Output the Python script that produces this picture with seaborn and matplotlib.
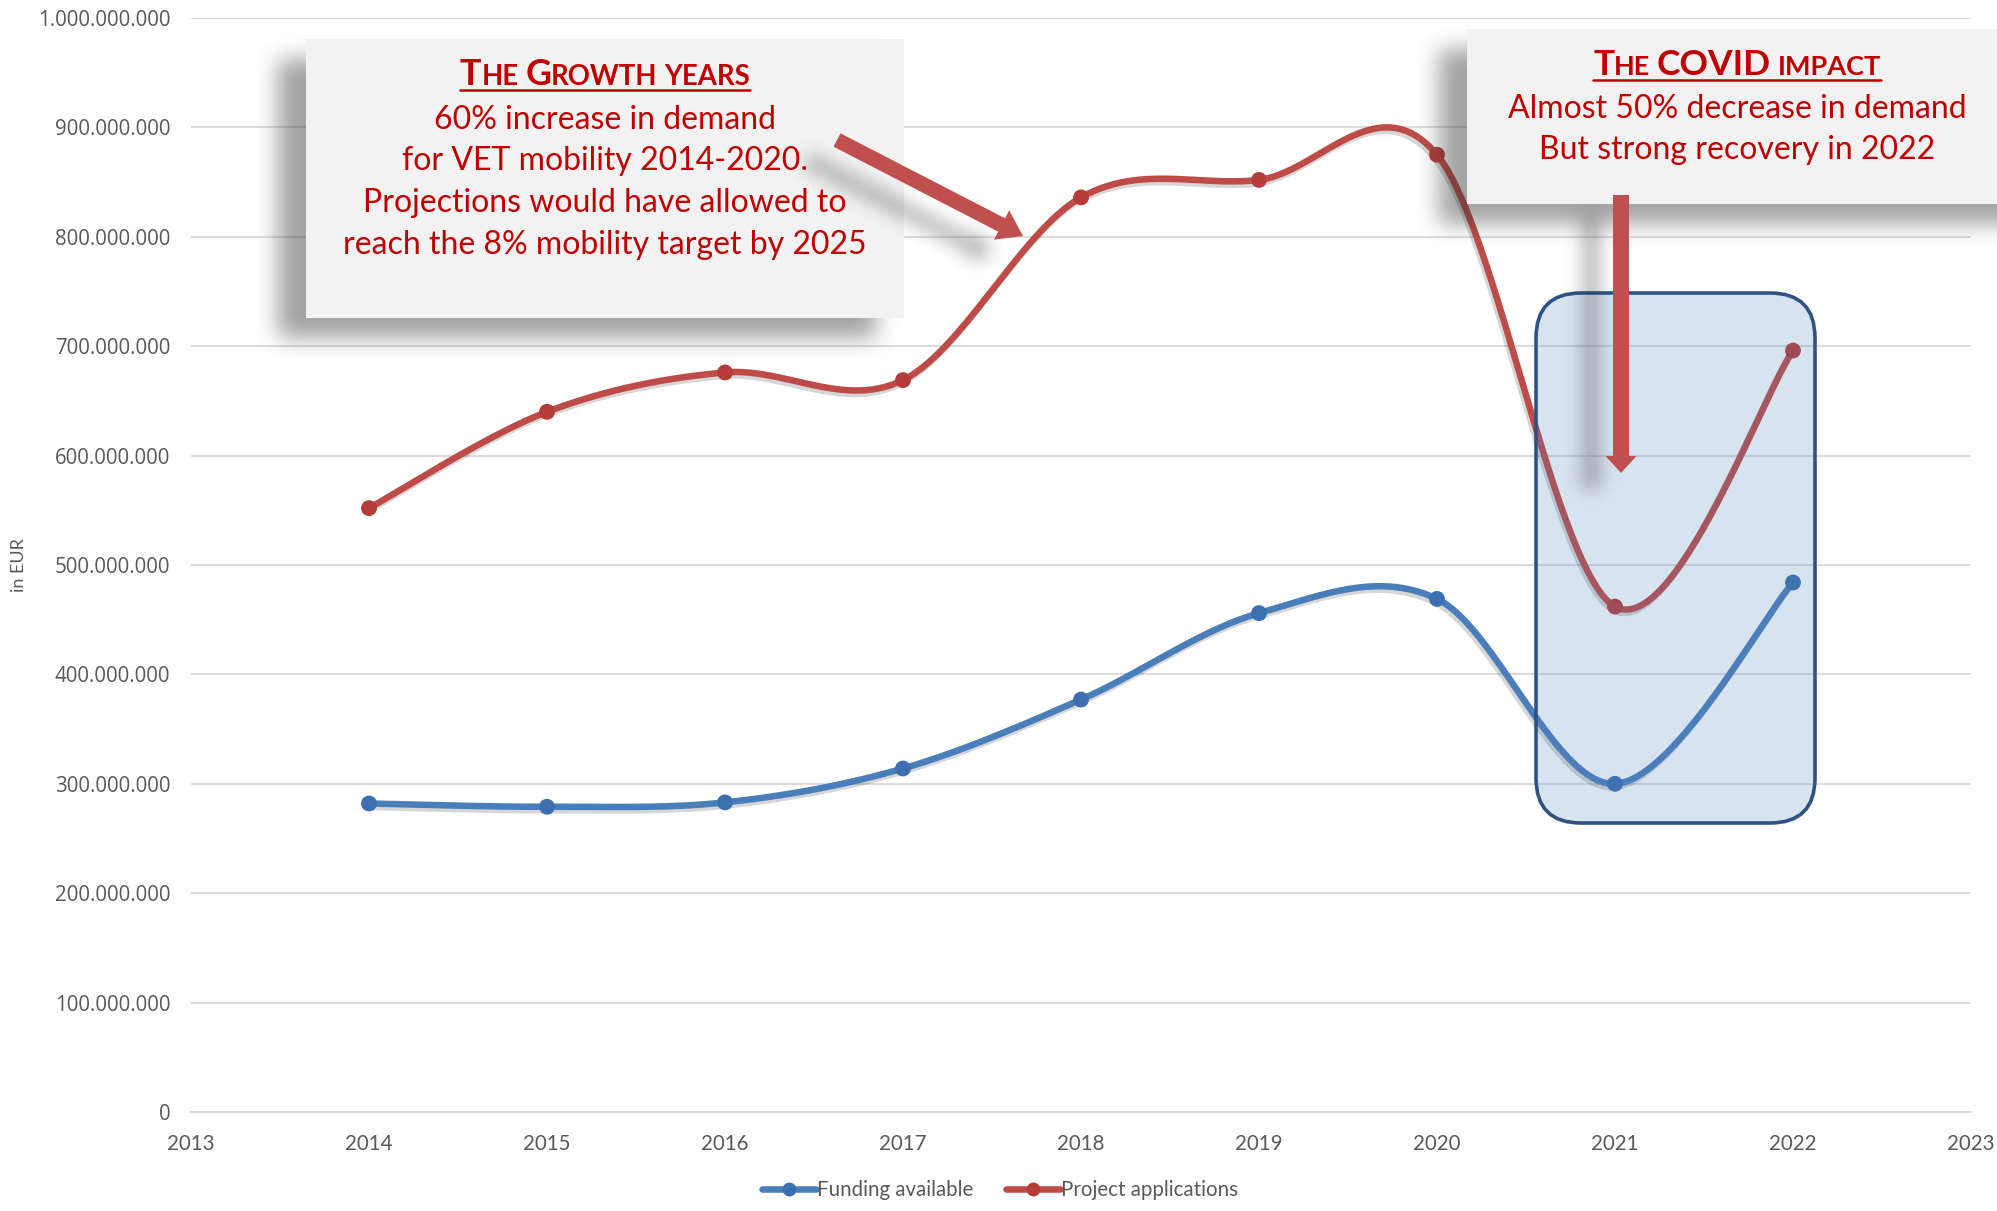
import numpy as np
import pandas as pd
import matplotlib
matplotlib.use("Agg")
import matplotlib.pyplot as plt
import seaborn as sns
from matplotlib.patches import Rectangle, FancyBboxPatch, Polygon
from matplotlib.lines import Line2D
from matplotlib.path import Path
from matplotlib.transforms import Affine2D
from matplotlib.ticker import FuncFormatter, FixedLocator
import matplotlib.patheffects as pe

# ---------------- data ----------------
years = [2014, 2015, 2016, 2017, 2018, 2019, 2020, 2021, 2022]
funding_available = [282e6, 279e6, 283e6, 314e6, 377e6, 456e6, 469e6, 300e6, 484e6]
project_applications = [552e6, 640e6, 676e6, 669e6, 836e6, 852e6, 875e6, 462e6, 696e6]
series_names = ["Funding available", "Project applications"]
x_ticks = list(range(2013, 2024))
y_ticks = list(range(0, 1_000_000_001, 100_000_000))
y_label = "in EUR"

growth_title = "The Growth years"
growth_lines = ["60% increase in demand",
                "for VET mobility 2014-2020.",
                "Projections would have allowed to",
                "reach the 8% mobility target by 2025"]
covid_title = "The COVID impact"
covid_lines = ["Almost 50% decrease in demand",
               "But strong recovery in 2022"]

# ---------------- style ----------------
BLUE = "#4a7ebb"
RED = "#be4b48"
BLUE_M = "#3c6fb0"
RED_M = "#b53c3a"
TXT_RED = "#c00000"
GRAY = "#595959"
FONT = "Lato"

sns.set_style("white")
plt.rcParams["font.family"] = [FONT, "DejaVu Sans"]

W, H = 1997, 1211
DPI = 100
fig = plt.figure(figsize=(W / DPI, H / DPI), dpi=DPI)
fig.patch.set_facecolor("white")
px = Affine2D().scale(1 / DPI, -1 / DPI).translate(0, H / DPI) + fig.dpi_scale_trans

ax = fig.add_axes([191 / W, 1 - 1112 / H, (1971 - 191) / W, (1112 - 18) / H])


def excel_smooth(x, y, n=60):
    x = np.asarray(x, float)
    y = np.asarray(y, float)
    P = np.column_stack([x, y])
    P = np.vstack([P[:1], P, P[-1:]])
    t = np.linspace(0, 1, n)[:, None]
    segs = []
    for i in range(len(x) - 1):
        p0, p1, p2, p3 = P[i], P[i + 1], P[i + 2], P[i + 3]
        c1 = p1 + (p2 - p0) / 6
        c2 = p2 - (p3 - p1) / 6
        B = ((1 - t) ** 3) * p1 + 3 * ((1 - t) ** 2) * t * c1 + 3 * (1 - t) * t ** 2 * c2 + t ** 3 * p2
        segs.append(B if i == 0 else B[1:])
    B = np.vstack(segs)
    return B[:, 0], B[:, 1]


raw = pd.DataFrame({
    "year": years * 2,
    "value": funding_available + project_applications,
    "series": [series_names[0]] * len(years) + [series_names[1]] * len(years),
})
smooth_parts = []
for name, vals in zip(series_names, [funding_available, project_applications]):
    sx, sy = excel_smooth(years, vals)
    smooth_parts.append(pd.DataFrame({"year": sx, "value": sy, "series": name}))
smooth = pd.concat(smooth_parts, ignore_index=True)

palette = {series_names[0]: BLUE, series_names[1]: RED}
mpalette = {series_names[0]: BLUE_M, series_names[1]: RED_M}

sns.lineplot(data=smooth, x="year", y="value", hue="series", palette=palette,
             sort=False, estimator=None, lw=4.7, legend=False, ax=ax,
             path_effects=[pe.SimpleLineShadow(offset=(-1.5, -2.5), alpha=0.16), pe.Normal()],
             zorder=3)
sns.scatterplot(data=raw, x="year", y="value", hue="series", palette=mpalette,
                s=130, linewidth=0.0, legend=False, ax=ax, zorder=4)

ax.set_xlim(2013, 2023)
ax.set_ylim(0, 1_000_000_000)
ax.xaxis.set_major_locator(FixedLocator(x_ticks))
ax.yaxis.set_major_locator(FixedLocator(y_ticks))
ax.xaxis.set_major_formatter(FuncFormatter(lambda v, p: f"{int(round(v))}"))
ax.yaxis.set_major_formatter(FuncFormatter(lambda v, p: f"{int(round(v)):,}".replace(",", ".")))
ax.yaxis.grid(True, color="#d9d9d9", lw=1.3)
ax.xaxis.grid(False)
for s in ["left", "top", "right"]:
    ax.spines[s].set_visible(False)
ax.spines["bottom"].set_color("#d9d9d9")
ax.spines["bottom"].set_linewidth(1.3)
ax.tick_params(axis="y", length=0, pad=15, labelsize=14.8, labelcolor=GRAY)
ax.tick_params(axis="x", length=0, pad=15.5, labelsize=14.8, labelcolor=GRAY)
for lbl in ax.get_yticklabels():
    lbl.set_family("Open Sans")
ax.set_xlabel("")
ax.set_ylabel(y_label, fontsize=13, color=GRAY)
ax.yaxis.set_label_coords((27 - 191) / (1971 - 191), 0.5)

# legend
handles = [Line2D([0], [0], color=palette[n], lw=4.7, marker="o", markersize=10,
                  markerfacecolor=mpalette[n], markeredgewidth=0) for n in series_names]
fig.legend(handles, series_names, loc="center", bbox_to_anchor=(1000 / W, 1 - 1190 / H),
           ncol=2, frameon=False, fontsize=14.8, handlelength=2.6, handletextpad=0.05,
           columnspacing=1.6, labelcolor=GRAY)

# ---------------- shadows ----------------
yy, xx = np.mgrid[0:H, 0:W]
xx = xx + 0.5
yy = yy + 0.5


def box_blur(a, r, axis):
    a = np.moveaxis(a, axis, -1)
    pad = np.pad(a, [(0, 0)] * (a.ndim - 1) + [(r + 1, r)], mode="edge")
    c = np.cumsum(pad, axis=-1)
    out = (c[..., 2 * r + 1:] - c[..., :-(2 * r + 1)]) / (2 * r + 1)
    return np.moveaxis(out, -1, axis)


def blur(a, r):
    for _ in range(3):
        a = box_blur(a, r, 0)
        a = box_blur(a, r, 1)
    return a


def poly_mask(pts):
    path = Path(pts)
    x0, y0 = np.floor(pts.min(0)).astype(int) - 1
    x1, y1 = np.ceil(pts.max(0)).astype(int) + 2
    x0, y0 = max(x0, 0), max(y0, 0)
    x1, y1 = min(x1, W), min(y1, H)
    m = np.zeros((H, W))
    sub = np.column_stack([xx[y0:y1, x0:x1].ravel(), yy[y0:y1, x0:x1].ravel()])
    m[y0:y1, x0:x1] = path.contains_points(sub).reshape(y1 - y0, x1 - x0)
    return m


def rect_pts(x0, y0, x1, y1):
    return np.array([[x0, y0], [x1, y0], [x1, y1], [x0, y1]], float)


def arrow_pts(tail, tip, shaft_w, head_w, head_l):
    tail = np.asarray(tail, float)
    tip = np.asarray(tip, float)
    d = tip - tail
    u = d / np.hypot(*d)
    n = np.array([-u[1], u[0]])
    base = tip - u * head_l
    return np.array([tail + n * shaft_w / 2, base + n * shaft_w / 2, base + n * head_w / 2, tip,
                     base - n * head_w / 2, base - n * shaft_w / 2, tail - n * shaft_w / 2])


def shadow_image(polys, offset, r, strength, zorder):
    m = np.zeros((H, W))
    for p in polys:
        m = np.maximum(m, poly_mask(p + np.asarray(offset, float)))
    m = blur(m, r)
    rgba = np.zeros((H, W, 4))
    rgba[..., :3] = 0.2
    rgba[..., 3] = np.clip(m * strength, 0, 1)
    fig.figimage(rgba, 0, 0, origin="upper", zorder=zorder)


box1 = rect_pts(306, 39, 904, 318)
box2 = rect_pts(1467, 29, 2030, 204)
arrow1 = arrow_pts((837, 140), (1023, 236), 15, 33, 24)
arrow2 = arrow_pts((1621, 195), (1621, 473), 16, 31, 17)

# covid highlight region
rr = FancyBboxPatch((1536, 293), 1815 - 1536, 823 - 293,
                    boxstyle="round,pad=0,rounding_size=45", transform=px,
                    facecolor=(0.31, 0.506, 0.741, 0.22), edgecolor="#2f5283", lw=2.6, zorder=1.5)
fig.add_artist(rr)

shadow_image([box1, box2], (-28, 20), 10, 0.45, 2)
for b in [box1, box2]:
    fig.add_artist(Polygon(b, closed=True, transform=px, facecolor="#f2f2f2", edgecolor="none", zorder=3))
shadow_image([arrow1, arrow2], (-30, 20), 8, 0.38, 3.5)
for a in [arrow1, arrow2]:
    fig.add_artist(Polygon(a, closed=True, transform=px, facecolor="#c0504d", edgecolor="none", zorder=4))

# ---------------- texts ----------------
renderer = fig.canvas.get_renderer()


def small_caps(text, xc, yb, big, small):
    runs = []
    for wi, word in enumerate(text.split(" ")):
        if wi:
            runs.append((" ", None))
        cur, cur_up = "", None
        for ch in word:
            up = ch.isupper() or not ch.isalpha()
            if cur and up != cur_up:
                runs.append((cur.upper(), big if cur_up else small))
                cur = ""
            cur += ch
            cur_up = up
        runs.append((cur.upper(), big if cur_up else small))
    probe1 = fig.text(0, 0, "H H", fontsize=small, fontweight="bold", transform=px)
    probe2 = fig.text(0, 0, "HH", fontsize=small, fontweight="bold", transform=px)
    gap = probe1.get_window_extent(renderer).width - probe2.get_window_extent(renderer).width
    probe1.remove()
    probe2.remove()
    arts, widths = [], []
    for s, sz in runs:
        if sz is None:
            arts.append(None)
            widths.append(gap)
        else:
            t = fig.text(0, yb, s, fontsize=sz, fontweight="bold", color=TXT_RED, transform=px,
                         ha="left", va="baseline", zorder=6)
            arts.append(t)
            widths.append(t.get_window_extent(renderer).width)
    total = sum(widths)
    x = xc - total / 2
    for t, w in zip(arts, widths):
        if t is not None:
            t.set_x(x)
        x += w
    fig.add_artist(Line2D([xc - total / 2, xc + total / 2], [yb + 4.5, yb + 4.5], transform=px,
                          color=TXT_RED, lw=1.8, zorder=6))


small_caps(growth_title, 605, 85, 25.8, 19.8)
for i, line in enumerate(growth_lines):
    fig.text(605, 129 + i * 41.5, line, transform=px, ha="center", va="baseline",
             fontsize=23, color=TXT_RED, zorder=6)

small_caps(covid_title, 1737, 75, 25.5, 19.5)
for i, line in enumerate(covid_lines):
    fig.text(1737, 117.5 + i * 41.5, line, transform=px, ha="center", va="baseline",
             fontsize=23, color=TXT_RED, zorder=6)

fig.savefig("out.png", dpi=DPI)
